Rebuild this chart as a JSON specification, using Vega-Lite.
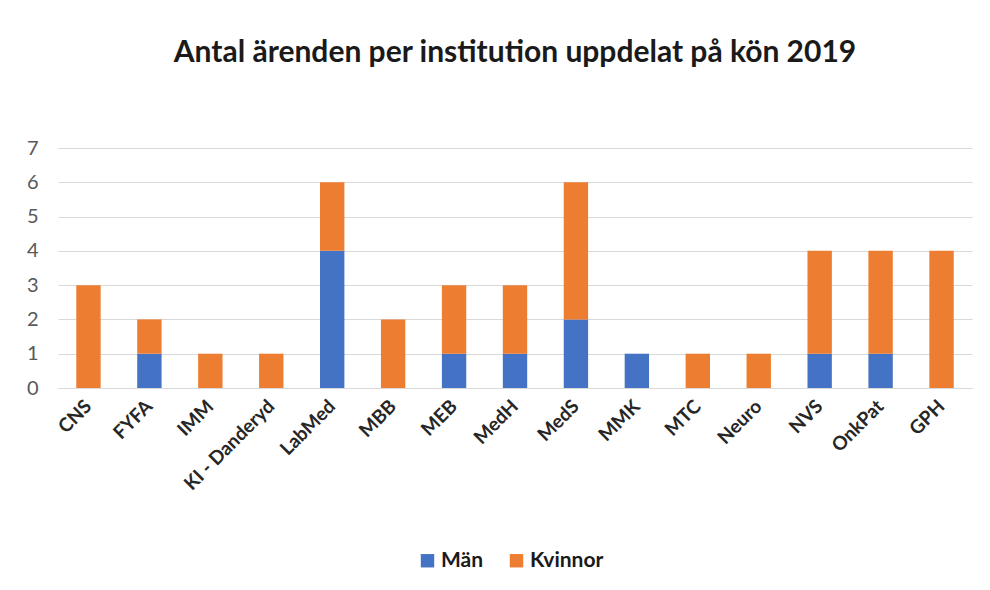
{
  "$schema": "https://vega.github.io/schema/vega-lite/v6.json",
  "width": 914,
  "height": 240,
  "autosize": "none",
  "padding": {"left": 58, "top": 148, "right": 18, "bottom": 202},
  "background": "white",
  "title": {
    "text": "Antal ärenden per institution uppdelat på kön 2019",
    "font": "Lato",
    "fontSize": 30,
    "fontWeight": "bold",
    "color": "#1a1a1a",
    "anchor": "middle",
    "offset": 70
  },
  "data": {
    "values": [
      {"inst": "CNS", "kon": "Män", "ord": 1, "antal": 0},
      {"inst": "CNS", "kon": "Kvinnor", "ord": 2, "antal": 3},
      {"inst": "FYFA", "kon": "Män", "ord": 1, "antal": 1},
      {"inst": "FYFA", "kon": "Kvinnor", "ord": 2, "antal": 1},
      {"inst": "IMM", "kon": "Män", "ord": 1, "antal": 0},
      {"inst": "IMM", "kon": "Kvinnor", "ord": 2, "antal": 1},
      {"inst": "KI - Danderyd", "kon": "Män", "ord": 1, "antal": 0},
      {"inst": "KI - Danderyd", "kon": "Kvinnor", "ord": 2, "antal": 1},
      {"inst": "LabMed", "kon": "Män", "ord": 1, "antal": 4},
      {"inst": "LabMed", "kon": "Kvinnor", "ord": 2, "antal": 2},
      {"inst": "MBB", "kon": "Män", "ord": 1, "antal": 0},
      {"inst": "MBB", "kon": "Kvinnor", "ord": 2, "antal": 2},
      {"inst": "MEB", "kon": "Män", "ord": 1, "antal": 1},
      {"inst": "MEB", "kon": "Kvinnor", "ord": 2, "antal": 2},
      {"inst": "MedH", "kon": "Män", "ord": 1, "antal": 1},
      {"inst": "MedH", "kon": "Kvinnor", "ord": 2, "antal": 2},
      {"inst": "MedS", "kon": "Män", "ord": 1, "antal": 2},
      {"inst": "MedS", "kon": "Kvinnor", "ord": 2, "antal": 4},
      {"inst": "MMK", "kon": "Män", "ord": 1, "antal": 1},
      {"inst": "MMK", "kon": "Kvinnor", "ord": 2, "antal": 0},
      {"inst": "MTC", "kon": "Män", "ord": 1, "antal": 0},
      {"inst": "MTC", "kon": "Kvinnor", "ord": 2, "antal": 1},
      {"inst": "Neuro", "kon": "Män", "ord": 1, "antal": 0},
      {"inst": "Neuro", "kon": "Kvinnor", "ord": 2, "antal": 1},
      {"inst": "NVS", "kon": "Män", "ord": 1, "antal": 1},
      {"inst": "NVS", "kon": "Kvinnor", "ord": 2, "antal": 3},
      {"inst": "OnkPat", "kon": "Män", "ord": 1, "antal": 1},
      {"inst": "OnkPat", "kon": "Kvinnor", "ord": 2, "antal": 3},
      {"inst": "GPH", "kon": "Män", "ord": 1, "antal": 0},
      {"inst": "GPH", "kon": "Kvinnor", "ord": 2, "antal": 4}
    ]
  },
  "mark": {"type": "bar"},
  "encoding": {
    "x": {
      "field": "inst",
      "type": "nominal",
      "sort": null,
      "scale": {"paddingInner": 0.6, "paddingOuter": 0.3},
      "axis": {
        "title": null,
        "labelAngle": -45,
        "labelAlign": "right",
        "labelBaseline": "middle",
        "labelFont": "Lato",
        "labelFontSize": 19,
        "labelFontWeight": "bold",
        "labelColor": "#262626",
        "labelPadding": 15,
        "labelOverlap": false,
        "ticks": false,
        "domainColor": "#d9d9d9",
        "domainWidth": 1,
        "grid": false
      }
    },
    "y": {
      "field": "antal",
      "type": "quantitative",
      "stack": "zero",
      "scale": {"domain": [0, 7], "nice": false},
      "axis": {
        "title": null,
        "values": [0, 1, 2, 3, 4, 5, 6, 7],
        "labelOverlap": false,
        "labelFont": "Lato",
        "labelFontSize": 20,
        "labelColor": "#595959",
        "labelPadding": 20,
        "ticks": false,
        "domain": false,
        "gridColor": "#d9d9d9",
        "gridWidth": 1
      }
    },
    "color": {
      "field": "kon",
      "type": "nominal",
      "scale": {"domain": ["Män", "Kvinnor"], "range": ["#4472C4", "#ED7D31"]},
      "legend": {
        "title": null,
        "orient": "none",
        "direction": "horizontal",
        "legendX": 359,
        "legendY": 402,
        "symbolType": "square",
        "symbolSize": 180,
        "symbolStrokeWidth": 0,
        "labelFont": "Lato",
        "labelFontSize": 21,
        "labelFontWeight": "bold",
        "labelColor": "#1a1a1a",
        "columnPadding": 22,
        "labelOffset": 3
      }
    },
    "order": {"field": "ord", "type": "quantitative"}
  },
  "config": {
    "view": {"stroke": null}
  }
}
